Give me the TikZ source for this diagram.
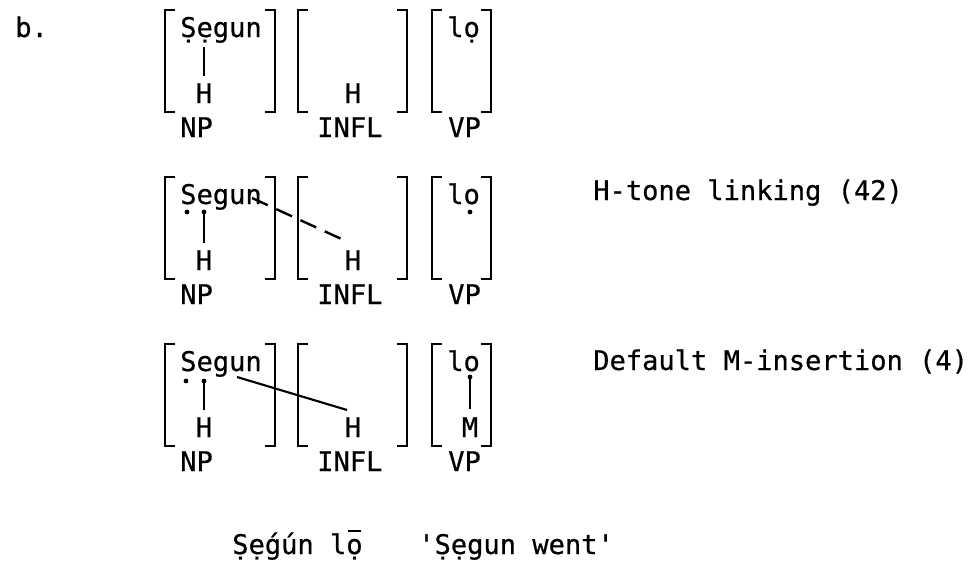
\documentclass[tikz,border=0pt]{standalone}
\usepackage{fontspec}
\setmonofont{DejaVu Sans Mono}[FakeBold=0.6]
\usetikzlibrary{calc}
\newcommand\cbrack[4]{%
  \draw[brk] (#1+10,#3) -- (#1,#3) -- (#1,#4) -- (#1+10,#4);
  \draw[brk] (#2-10,#3) -- (#2,#3) -- (#2,#4) -- (#2-10,#4);}
\begin{document}
\begin{tikzpicture}[x=0.75pt,y=-0.75pt,font=\ttfamily\fontsize{20.3}{24}\selectfont]
\tikzset{
  txt/.style={inner sep=0pt,anchor=base west},
  tone/.style={inner sep=0pt,anchor=base},
  brk/.style={line width=1.9pt,line cap=butt,line join=miter},
  assoc/.style={line width=0.8pt},
  newlink/.style={line width=1.6pt},
  dlink/.style={line width=1.8pt,dash pattern=on 13pt off 7pt},
  tdot/.style={fill=black,draw=none},
  tonemark/.style={line width=1.8pt}
}
\useasboundingbox (0,0) rectangle (980,571);
\node[txt] (b) at (15,37) {b.};

% ---------- row 1
\cbrack{165}{275}{10}{112}
\cbrack{298}{407}{10}{112}
\cbrack{432}{491}{10}{112}
\node[txt] (s1) at (180,37) {Ṣẹgun};
\node[tone] (h1) at (204,103) {H};
\node[txt] (np1) at (180,137) {NP};
\node[tone] (hi1) at (353,103) {H};
\node[txt] (infl1) at (317,137) {INFL};
\node[txt] (lo1) at (447,37) {lọ};
\node[txt] (vp1) at (448,137) {VP};
\coordinate (e1) at (204,47);
\draw[assoc] (e1) -- ([yshift=5pt]h1.north);

% ---------- row 2
\cbrack{165}{275}{177}{279}
\cbrack{298}{407}{177}{279}
\cbrack{432}{491}{177}{279}
\node[txt] (s2) at (180,204) {Segun};
\coordinate (sd2) at (187,212);
\coordinate (e2) at (204,212);
\fill[tdot] (sd2) circle (2.4);
\fill[tdot] (e2) circle (2.4);
\node[tone] (h2) at (204,270) {H};
\node[txt] (np2) at (180,304) {NP};
\node[tone] (hi2) at (353,270) {H};
\node[txt] (infl2) at (317,304) {INFL};
\node[txt] (lo2) at (447,204) {lo};
\coordinate (od2) at (470,212);
\fill[tdot] (od2) circle (2.4);
\node[txt] (vp2) at (448,304) {VP};
\draw[assoc] (e2) -- ([yshift=5pt]h2.north);
\coordinate (n2) at (252,198);
\draw[dlink] (n2) -- ($(hi2.north)+(-5,-8)$);
\node[txt] (r2) at (593,200) {H-tone linking (42)};

% ---------- row 3
\cbrack{165}{275}{344}{446}
\cbrack{298}{407}{344}{446}
\cbrack{432}{491}{344}{446}
\node[txt] (s3) at (180,371) {Segun};
\coordinate (sd3) at (186,381);
\coordinate (e3) at (204,381);
\fill[tdot] (sd3) circle (2.4);
\fill[tdot] (e3) circle (2.4);
\node[tone] (h3) at (204,437) {H};
\node[txt] (np3) at (180,471) {NP};
\node[tone] (hi3) at (353,437) {H};
\node[txt] (infl3) at (317,471) {INFL};
\node[txt] (lo3) at (447,371) {lo};
\coordinate (od3) at (470,377);
\fill[tdot] (od3) circle (2.4);
\node[tone] (m3) at (470,437) {M};
\node[txt] (vp3) at (448,471) {VP};
\draw[assoc] (e3) -- ([yshift=5pt]h3.north);
\draw[assoc] (od3) -- ([yshift=6pt]m3.north);
\coordinate (n3) at (237,377);
\draw[newlink] (n3) -- ($(hi3.north)+(-6,-7)$);
\node[txt] (r3) at (593,370) {Default M-insertion (4)};

% ---------- output
\node[txt] (out) at (232,554) {Ṣẹ́gún lọ};
\coordinate (mac1) at (348,531);
\coordinate (mac2) at (361,531);
\draw[tonemark] (mac1) -- (mac2);
\node[txt] (gloss) at (418,554) {'Ṣẹgun went'};
\end{tikzpicture}
\end{document}
